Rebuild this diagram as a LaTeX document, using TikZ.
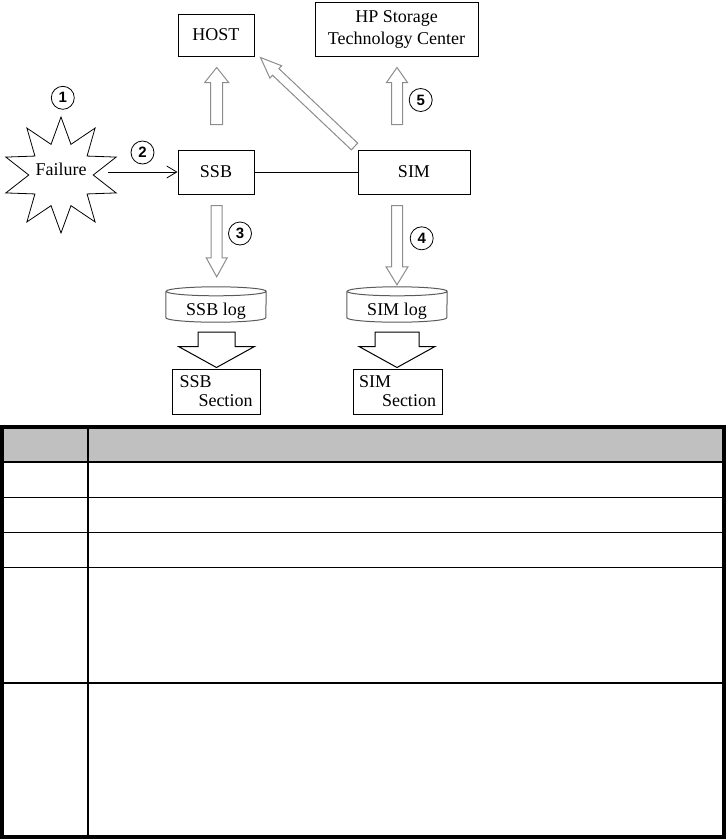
\documentclass[tikz,border=0pt]{standalone}
\usepackage{fontspec}
\setmainfont{Liberation Serif}
\newfontfamily\numfont{Liberation Sans}
\usetikzlibrary{arrows.meta,calc,shapes.geometric}
\definecolor{arrowgray}{RGB}{140,140,140}
\definecolor{drumgray}{RGB}{90,90,90}
\definecolor{headgray}{RGB}{192,192,192}

% [style]{tail}{tip}{shaft half width}{head half width}{head length}
\newcommand{\blockarrow}[6][]{%
  \coordinate (ba-hb) at ($(#3)!#6!(#2)$);
  \draw[#1] ($(#2)!#4!90:(#3)$) -- ($(ba-hb)!#4!90:(#3)$)
    -- ($(ba-hb)!#5!90:(#3)$) -- (#3) -- ($(ba-hb)!#5!-90:(#3)$)
    -- ($(ba-hb)!#4!-90:(#3)$) -- ($(#2)!#4!-90:(#3)$) -- cycle;}

\begin{document}
\begin{tikzpicture}[x=1pt, y=-1pt,
          box/.style={draw, line width=1pt, minimum width=76pt,
                      minimum height=44pt, inner sep=4pt,
                      font=\fontsize{18}{21}\selectfont},
          drum/.style={minimum width=100pt, minimum height=35pt,
                       inner sep=0pt, text height=22pt, text depth=0pt,
                       font=\fontsize{18}{21}\selectfont},
          drumline/.style={draw=drumgray, line width=1pt},
          burst/.style={star, star points=10, star point ratio=1.8, draw,
                        line width=0.8pt, minimum size=116pt, inner sep=0pt,
                        text height=0pt, text depth=0pt,
                        font=\fontsize{18}{21}\selectfont},
          num/.style={circle, draw, line width=0.8pt, minimum size=23pt,
                      inner sep=0pt, font=\numfont\bfseries\fontsize{15}{15}\selectfont},
          thinarrow/.style={draw=arrowgray, fill=white, line width=1pt, line join=miter},
          widearrow/.style={draw=black, fill=white, line width=1pt, line join=miter},
          tableline/.style={line width=1.5pt}]
        \useasboundingbox (0,0) rectangle (727,839);
        % diagram
        \node[box, minimum height=42pt] (host) at (216,35) {HOST};
        \node[box, minimum width=163pt, minimum height=54pt, align=center,
              font=\fontsize{18}{22}\selectfont] (hp) at (396.5,29)
              {HP Storage\\Technology Center};
        \node[box] (ssb) at (216,172) {SSB};
        \node[box, minimum width=112pt] (sim) at (414,172) {SIM};
        \node[burst] (fail) at (61,175) {\makebox[0pt]{Failure}};
        \node[drum] (ssblog) at (216,304.5) {SSB log};
        \node[drum] (simlog) at (397,304.5) {SIM log};
        \node[box, minimum width=88pt, minimum height=45pt, align=left,
              font=\fontsize{18}{19}\selectfont] (ssbsec) at (216,391.5)
              {SSB\\\hspace*{19pt}Section};
        \node[box, minimum width=89pt, minimum height=45pt, align=left,
              font=\fontsize{18}{19}\selectfont] (simsec) at (397.5,391.5)
              {SIM\\\hspace*{23pt}Section};
        \foreach \d in {ssblog,simlog}
          \draw[drumline] ($(\d.north west)+(0,4.5)$) -- ($(\d.south west)+(0,-4.5)$)
            arc[start angle=180, end angle=360, x radius=50pt, y radius=4.5pt]
            -- ($(\d.north east)+(0,4.5)$)
            arc[start angle=0, end angle=360, x radius=50pt, y radius=4.5pt];
        % step numbers
        \node[num] (n1) at (62.8,97.8) {1};
        \node[num] (n2) at (142.5,152.5) {2};
        \node[num] (n3) at (240,233.5) {3};
        \node[num] (n4) at (421.7,238.3) {4};
        \node[num] (n5) at (420.7,100) {5};
        % connectors
        \coordinate (fail-out) at ($(fail.center)+(47,-3)$);
        \draw[line width=0.8pt, -{Straight Barb[length=10pt, width=12pt]}]
          (fail-out) -- (ssb.west);
        \draw[line width=0.8pt] (ssb) -- (sim);
        \coordinate (ssb-up) at ($(ssb.north)+(0.7,-25)$);
        \coordinate (host-in) at ($(host.south)+(0.7,11)$);
        \coordinate (sim-up) at ($(sim.north)+(-17,-25)$);
        \coordinate (hp-in) at ($(hp.south)+(0.5,11)$);
        \coordinate (sim-diag) at ($(sim.north west)+(-3,-3)$);
        \coordinate (host-diag) at ($(host.south east)+(6,1)$);
        \coordinate (ssb-down) at ($(ssb.south)+(0.7,11)$);
        \coordinate (ssblog-in) at ($(ssblog.north)+(0.7,-10)$);
        \coordinate (sim-down) at ($(sim.south)+(-17,11)$);
        \coordinate (simlog-in) at ($(simlog.north)+(0,-2)$);
        \coordinate (ssblog-out) at ($(ssblog.south)+(0.5,10)$);
        \coordinate (ssbsec-in) at ($(ssbsec.north)+(0.5,-1)$);
        \coordinate (simlog-out) at ($(simlog.south)+(0,10)$);
        \coordinate (simsec-in) at ($(simsec.north)+(-0.5,-1)$);
        \blockarrow[thinarrow]{ssb-up}{host-in}{6pt}{12pt}{15pt}
        \blockarrow[thinarrow]{sim-up}{hp-in}{5.5pt}{10.5pt}{15pt}
        \blockarrow[thinarrow]{sim-diag}{host-diag}{4.6pt}{8.5pt}{21pt}
        \blockarrow[thinarrow]{ssb-down}{ssblog-in}{5.5pt}{10.5pt}{19pt}
        \blockarrow[thinarrow]{sim-down}{simlog-in}{5.5pt}{11pt}{18pt}
        \blockarrow[widearrow]{ssblog-out}{ssbsec-in}{18.5pt}{38pt}{21pt}
        \blockarrow[widearrow]{simlog-out}{simsec-in}{22pt}{38pt}{21pt}
        % table
        \fill[headgray] (2,429) rectangle (724,462);
        \foreach \r in {462,497.5,532.6,567.7,683}
          \draw[tableline] (2,\r) -- (724,\r);
        \draw[tableline] (88,429) -- (88,837);
        \draw[line width=4pt] (2,427) rectangle (724,837);
      \end{tikzpicture}
\end{document}
